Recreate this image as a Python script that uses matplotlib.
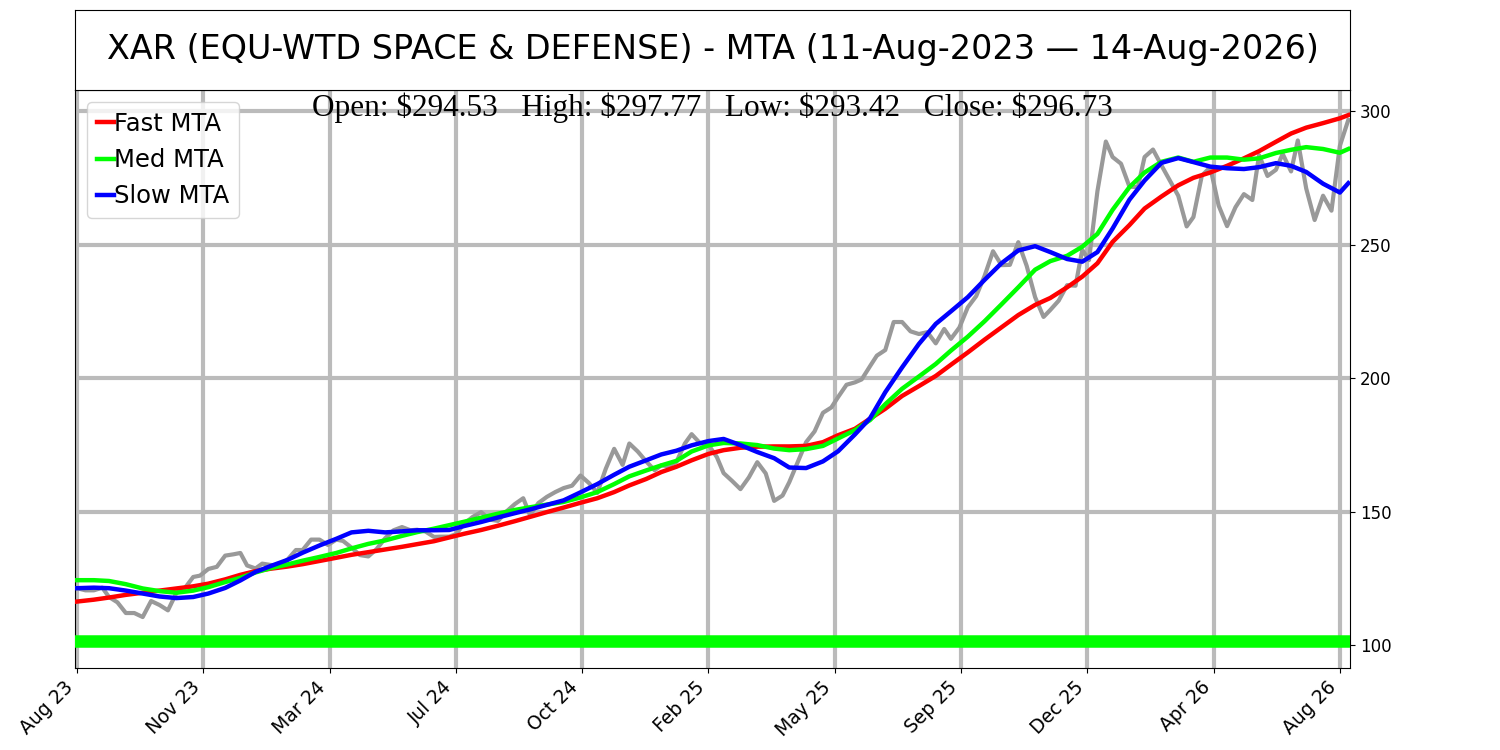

# XAR moving-trend chart (MTA) with weekly closes
import numpy as np
import pandas as pd
import matplotlib
matplotlib.use("Agg")
import matplotlib.pyplot as plt

# Date range of the chart
start_date = "2023-08-11"
end_date = "2026-08-14"

# Market holidays inside the range (trading-day x axis)
holidays = [
    "2023-09-04", "2023-11-23", "2023-12-25",
    "2024-01-01", "2024-01-15", "2024-02-19", "2024-03-29", "2024-05-27",
    "2024-06-19", "2024-07-04", "2024-09-02", "2024-11-28", "2024-12-25",
    "2025-01-01", "2025-01-20", "2025-02-17", "2025-04-18",
    "2025-05-26", "2025-06-19", "2025-07-04", "2025-09-01", "2025-11-27",
    "2025-12-25",
    "2026-01-01", "2026-01-19", "2026-02-16", "2026-04-03", "2026-05-25",
    "2026-06-19", "2026-07-03",
]

# Weekly closes (one per week, Friday)
weekly_close = [
    121.3, 120.5, 120.5, 121.5, 118.0, 116.0, 112.0, 112.0, 110.5, 116.5,
    115.0, 113.0, 119.5, 121.3, 125.5, 126.0, 128.5, 129.3, 133.5, 134.0,
    134.5, 129.8, 128.7, 130.5, 130.0, 129.8, 132.0, 135.6, 135.6, 139.5,
    139.5, 137.5, 139.5, 139.0, 136.5, 133.7, 133.2, 136.0, 140.0, 143.0,
    144.2, 143.0, 143.2, 142.5, 140.5, 140.6, 140.6, 141.5, 145.5, 148.0,
    149.8, 147.0, 146.5, 150.0, 152.8, 155.0, 148.7, 153.2, 155.5, 157.3,
    158.8, 159.7, 163.5, 160.7, 157.0, 166.0, 173.5, 167.5, 175.5, 172.5,
    168.8, 165.5, 167.3, 167.0, 168.6, 175.5, 179.0, 175.6, 175.0, 170.4,
    164.4, 161.5, 158.4, 162.8, 168.5, 164.3, 154.0, 156.0, 161.0, 168.5,
    176.0, 180.0, 187.0, 189.0, 192.9, 197.5, 198.4, 199.5, 204.5, 208.4,
    210.5, 221.0, 221.0, 217.5, 216.5, 217.2, 213.0, 218.4, 214.7, 218.9,
    226.5, 230.7, 238.3, 247.5, 242.3, 242.4, 250.9, 242.0, 230.3, 222.9,
    225.5, 229.0, 234.8, 234.6, 248.0, 244.2, 270.0, 288.6, 282.8, 280.3,
    271.7, 271.5, 282.8, 285.6, 279.7, 274.0, 268.3, 256.8, 260.3, 275.8,
    279.0, 264.6, 256.9, 264.0, 268.9, 266.7, 283.5, 275.7, 278.0, 284.0,
    277.4, 289.0, 271.0, 259.2, 268.3, 262.7, 287.0, 296.7,
]

# MTA lines, every 2nd week plus the last week
fast_mta = [
    116.3, 117.0, 117.8, 118.8, 119.6, 120.4, 121.2, 122.0, 123.0, 124.6,
    126.3, 127.7, 128.6, 129.4, 130.3, 131.5, 132.7, 133.8, 134.8, 135.8,
    136.8, 137.8, 138.9, 140.3, 141.7, 143.1, 144.7, 146.4, 148.0, 149.8,
    151.5, 153.3, 155.0, 157.3, 159.8, 162.2, 164.8, 166.8, 169.2, 171.6,
    173.0, 173.9, 174.3, 174.4, 174.4, 174.6, 176.0, 178.6, 181.0, 184.8,
    188.5, 193.3, 197.0, 200.8, 205.0, 209.6, 214.4, 219.0, 223.6, 227.4,
    230.0, 234.0, 238.0, 243.0, 251.0, 257.3, 263.5, 268.0, 272.2, 275.0,
    277.0, 279.5, 282.3, 285.0, 288.5, 291.6, 293.8, 295.5, 297.3, 298.5,
]
med_mta = [
    124.3, 124.3, 124.0, 122.8, 121.2, 120.2, 119.6, 120.4, 121.7, 123.6,
    125.2, 127.2, 128.8, 130.2, 131.6, 133.0, 134.5, 136.2, 137.9, 139.2,
    140.9, 142.3, 143.6, 144.9, 146.2, 147.7, 149.2, 150.6, 151.6, 152.6,
    153.6, 155.3, 157.3, 160.3, 163.2, 165.4, 167.3, 169.0, 172.5, 174.8,
    175.7, 175.5, 174.9, 173.6, 173.0, 173.4, 174.6, 177.4, 180.5, 184.3,
    190.2, 196.0, 200.6, 205.3, 210.3, 215.5, 221.3, 227.6, 234.0, 240.6,
    243.8, 245.8, 249.2, 254.0, 263.0, 271.5, 277.0, 281.0, 282.6, 281.0,
    282.6, 282.6, 281.8, 282.3, 284.3, 285.5, 286.5, 285.8, 284.4, 285.8,
]
slow_mta = [
    121.3, 121.5, 121.3, 120.4, 119.3, 118.2, 117.6, 118.0, 119.3, 121.4,
    124.2, 127.4, 129.6, 131.9, 134.6, 137.3, 139.8, 142.2, 142.8, 142.2,
    142.6, 143.0, 143.0, 143.1, 144.6, 146.1, 147.8, 149.4, 150.8, 152.5,
    154.2, 157.2, 160.3, 163.8, 166.8, 169.2, 171.4, 172.8, 174.8, 176.4,
    177.2, 174.9, 172.3, 170.0, 166.5, 166.3, 168.8, 172.6, 178.9, 185.0,
    194.7, 204.0, 212.8, 220.3, 225.0, 230.3, 236.8, 243.0, 247.8, 249.4,
    247.2, 244.6, 243.6, 247.2, 256.0, 266.8, 274.0, 280.6, 282.4, 280.9,
    279.2, 278.6, 278.3, 279.0, 280.5, 279.5, 277.2, 272.8, 269.5, 273.0,
]

support_level = 101.5
ohlc_text = r"Open: \$294.53   High: \$297.77   Low: \$293.42   Close: \$296.73"
title = "XAR (EQU-WTD SPACE & DEFENSE) - MTA (11-Aug-2023 \u2014 14-Aug-2026)"

# Trading-day index as the x axis (weekdays minus holidays)
days = pd.bdate_range(start_date, end_date)
days = days[~days.isin(pd.to_datetime(holidays))]
n_days = len(days)
fridays = pd.date_range(start_date, end_date, freq="W-FRI")
week_pos = days.searchsorted(fridays, side="right") - 1
mta_weeks = list(range(0, len(fridays), 2))
if mta_weeks[-1] != len(fridays) - 1:
    mta_weeks.append(len(fridays) - 1)
mta_pos = week_pos[mta_weeks]

fig = plt.figure(figsize=(15, 7.5), dpi=100)
ax = fig.add_axes([0.05, 0.1093, 0.85, 0.7707])
tax = fig.add_axes([0.05, 0.88, 0.85, 0.1067])

# Title box
tax.set_xticks([])
tax.set_yticks([])
tax.text(0.5, 0.5, title, ha="center", va="center", fontsize=24,
         transform=tax.transAxes)

# Grid
step = n_days // 10
tick_pos = list(range(0, n_days, step))
ax.set_xticks(tick_pos)
ax.set_xticklabels([days[i].strftime("%b %y") for i in tick_pos],
                   rotation=45, ha="right", fontsize=13.5)
ax.set_yticks([100, 150, 200, 250, 300])
ax.grid(True, color="#bbbbbb", linewidth=3, zorder=0)

# Price and MTA lines
ax.plot(week_pos, weekly_close, color="#999999", linewidth=3, zorder=2)
ax.plot(mta_pos, fast_mta, color="red", linewidth=3.2, label="Fast MTA", zorder=3)
ax.plot(mta_pos, med_mta, color="lime", linewidth=3.2, label="Med MTA", zorder=3)
ax.plot(mta_pos, slow_mta, color="blue", linewidth=3.2, label="Slow MTA", zorder=4)
ax.axhline(support_level, color="lime", linewidth=9, zorder=3)

ax.set_xlim(-1.2, n_days)
ax.set_ylim(91.4, 307.9)
ax.yaxis.tick_right()
ax.tick_params(axis="y", labelsize=12)

ax.legend(loc="upper left", fontsize=17.5, handlelength=0.7, handletextpad=0.0,
          borderpad=0.4, labelspacing=0.5)

ax.text(0.5, 0.995, ohlc_text, transform=ax.transAxes, ha="center", va="top",
        fontsize=22.5, family="Liberation Serif")

plt.savefig("out.png", dpi=100)
